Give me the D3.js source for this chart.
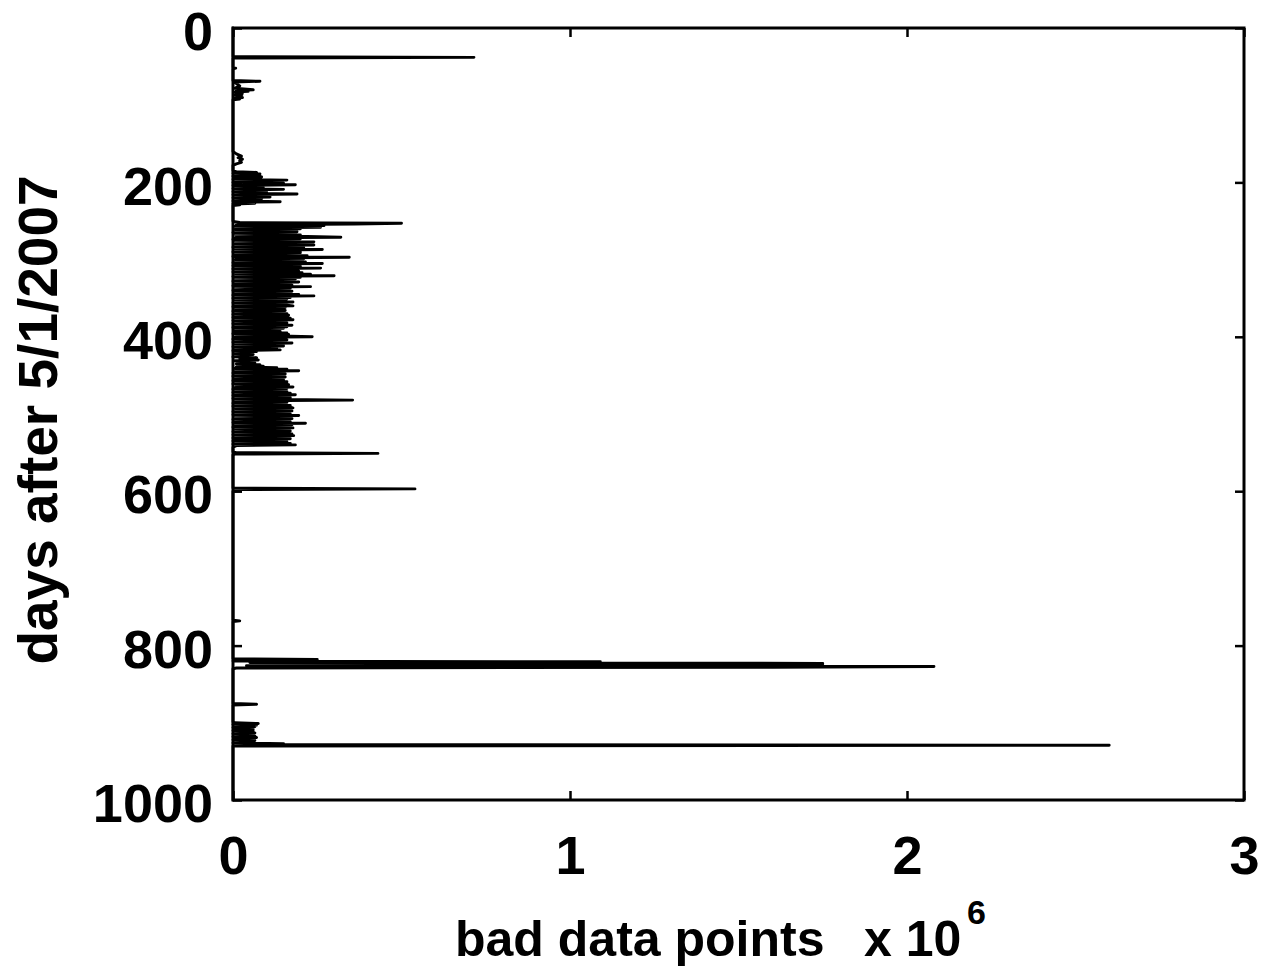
<!DOCTYPE html>
<html>
<head>
<meta charset="utf-8">
<script src="https://cdn.jsdelivr.net/npm/d3@7"></script>
<style>
  html, body { margin: 0; padding: 0; background: #fff; }
  svg { display: block; }
  text { font-family: "Liberation Sans", Arial, sans-serif; font-weight: bold; fill: #000; }
</style>
</head>
<body>
<svg id="chart" width="1268" height="972"></svg>
<script>
// ---- data (values in thousands of bad data points, day = days after 5/1/2007) ----
const xTickValues = [0, 1000, 2000, 3000];
const xTickLabels = ["0", "1", "2", "3"];
const yTickValues = [0, 200, 400, 600, 800, 1000];
const yTickLabels = ["0", "200", "400", "600", "800", "1000"];

const earlyPoints = [[0,0],[37,0],[38,715],[39,0],[51,0],[52,8],[53,0],[68,0],[69,80],[70,3],[72,10],[75,20],[78,5],[80,60],[81,10],[82,45],[83,5],[84,28],[85,8],[86,27],[87,5],[88,25],[89,10],[90,28],[91,5],[92,20],[93,0],[160,0],[163,10],[166,25],[168,15],[170,28],[172,20],[174,25],[176,10],[178,0],[185,0]];

const block1Start = 186;
const block1Values = [10,70,0,80,5,80,0,85,5,80,0,160,5,85,0,150,5,185,0,80,5,90,0,150,5,85,0,100,5,190,0,80,5,110,0,85,5,75,0,140,5,65,0,20,0];

const block2Start = 250;
const block2Values = [
  0,5,20,500,360,10,270,5,260,10,
  200,5,180,10,190,0,175,5,200,10,
  220,320,5,200,0,190,5,240,10,210,
  5,240,10,190,0,210,5,265,10,200,
  0,200,10,180,5,220,0,345,10,210,
  5,190,10,215,0,265,10,180,0,200,
  5,260,0,175,10,195,0,205,5,230,
  10,300,0,200,5,185,10,165,0,195,
  10,165,5,175,0,230,5,170,10,160,
  0,175,10,160,5,195,0,240,10,170,
  0,160,5,155,10,178,0,155,5,160,
  178,0,155,5,150,10,155,0,150,5,
  160,0,165,10,150,0,170,5,178,0,
  155,10,160,0,150,175,5,160,0,150,
  10,5,3,140,5,160,0,165,10,140,
  235,5,155,0,160,10,145,0,175,5,
  135,10,150,0,130,5,110,140,0,70,
  10,55,5,60,15,45,0,70,20,50,
  75,5,60,20,65,10,80,20,90,10,
  130,5,160,10,195,5,150,0,155,10,
  150,0,155,10,145,5,150,0,160,5,
  160,0,165,10,155,178,5,160,0,155,
  10,160,0,170,5,185,0,160,5,170,
  0,150,355,5,10,160,0,155,5,170,
  0,150,178,5,160,10,175,0,155,5,
  170,0,195,5,160,10,175,0,155,5,
  170,0,215,10,175,5,160,0,178,5,
  160,10,170,0,155,5,175,0,180,5,
  160,0,170,10,155,0,160,5,170,0,
  185,10,5,0,0,0,0,0,0,0,
  10,430,5,0,0,0,0,0,0,0
];

const midPoints = [[596,0],[597,540],[598,10],[599,20],[600,0],[767,0],[768,20],[769,0],[817,0],[818,250],[819,10],[820,0],[821,1090],[822,50],[823,1750],[824,690],[825,1750],[826,40],[827,2080],[828,1600],[829,10],[830,0],[875,0],[876,70],[877,0],[899,0]];

const block3Start = 900;
const block3Values = [5,75,0,70,5,65,0,60,5,60,0,60,5,65,0,60,5,65,0,70,5,60,0,65,5,60,0,150,80,2600,0];

const latePoints = [[1000,0]];

// ---- assemble series ----
const series = []
  .concat(earlyPoints)
  .concat(block1Values.map((v, i) => [block1Start + i, v]))
  .concat(block2Values.map((v, i) => [block2Start + i, v]))
  .concat(midPoints)
  .concat(block3Values.map((v, i) => [block3Start + i, v]))
  .concat(latePoints)
  .sort((a, b) => a[0] - b[0]);

// ---- layout ----
const svg = d3.select("#chart");
const margin = { left: 233, top: 28, right: 24, bottom: 172 };
const W = 1268 - margin.left - margin.right;
const H = 972 - margin.top - margin.bottom;
const g = svg.append("g").attr("transform", `translate(${margin.left},${margin.top})`);

const xScale = d3.scaleLinear().domain([0, 3000]).range([0, W]);
const yScale = d3.scaleLinear().domain([0, 1000]).range([0, H]);

// data line
const lineGen = d3.line().x(d => xScale(d[1])).y(d => yScale(d[0]));
g.append("path")
  .datum(series)
  .attr("d", lineGen)
  .attr("fill", "none")
  .attr("stroke", "#000")
  .attr("stroke-width", 2.9)
  .attr("stroke-linejoin", "round")
  .attr("stroke-linecap", "round");

// axes
const fmtX = (d) => xTickLabels[xTickValues.indexOf(d)];
const fmtY = (d) => yTickLabels[yTickValues.indexOf(d)];

const axLeft = g.append("g").call(d3.axisLeft(yScale).tickValues(yTickValues).tickFormat(fmtY).tickSize(-9).tickPadding(20));
const axRight = g.append("g").attr("transform", `translate(${W},0)`).call(d3.axisRight(yScale).tickValues(yTickValues).tickFormat("").tickSize(-9));
const axBottom = g.append("g").attr("transform", `translate(0,${H})`).call(d3.axisBottom(xScale).tickValues(xTickValues).tickFormat(fmtX).tickSize(-9).tickPadding(36));
const axTop = g.append("g").call(d3.axisTop(xScale).tickValues(xTickValues).tickFormat("").tickSize(-9));

[axLeft, axRight, axBottom, axTop].forEach(a => {
  a.select(".domain").remove();
  a.selectAll("line").attr("stroke", "#000").attr("stroke-width", 2.5);
  a.selectAll("text").style("font-size", "54px").style("font-family", '"Liberation Sans", Arial, sans-serif').style("font-weight", "bold");
});
axLeft.selectAll("text").attr("dy", "0.40em");

// frame
g.append("rect").attr("x", 0).attr("y", 0).attr("width", W).attr("height", H)
  .attr("fill", "none").attr("stroke", "#000").attr("stroke-width", 3);

// titles
svg.append("text")
  .attr("transform", "translate(57,420) rotate(-90)")
  .attr("text-anchor", "middle")
  .style("font-size", "55px")
  .text("days after 5/1/2007");

svg.append("text").attr("x", 455).attr("y", 956).style("font-size", "50px").text("bad data points");
svg.append("text").attr("x", 864).attr("y", 956).style("font-size", "50px").text("x 10");
svg.append("text").attr("x", 967).attr("y", 924).style("font-size", "34px").text("6");
</script>
</body>
</html>
